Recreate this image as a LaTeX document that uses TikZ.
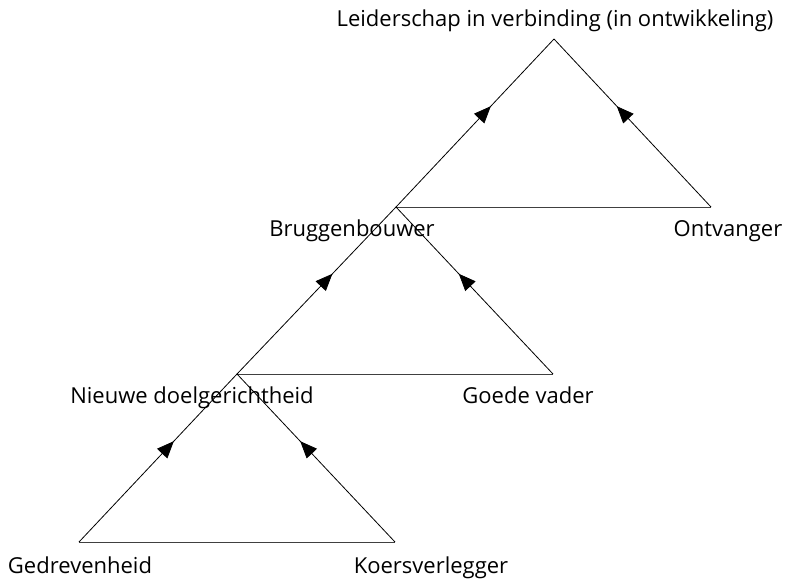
\documentclass[tikz,border=0pt]{standalone}
\usepackage{fontspec}
\setmainfont{Open Sans}
\usetikzlibrary{arrows.meta,decorations.markings}

\tikzset{
  label/.style={anchor=base, inner sep=0pt, font=\fontsize{22}{26}\selectfont},
  edge/.style={line width=0.8pt,
    postaction={decorate, decoration={markings,
      mark=at position 0.6 with {\arrow{Triangle[length=17pt,width=14pt]}}}}},
  baseline/.style={line width=1pt, draw=black!75},
}

\begin{document}
\begin{tikzpicture}[x=1pt,y=-1pt]
  \useasboundingbox (0,0) rectangle (787,579);

  % corners of the three stacked triangles
  \coordinate (a1) at (554,39);
  \coordinate (b1) at (396,207);
  \coordinate (c1) at (711,207);
  \coordinate (b2) at (237,374);
  \coordinate (c2) at (553,374);
  \coordinate (b3) at (79,542);
  \coordinate (c3) at (395,542);

  % labels
  \node[label] (top) at (555,26) {Leiderschap in verbinding (in ontwikkeling)};
  \node[label] (brug) at (352,236) {Bruggenbouwer};
  \node[label] (ontv) at (728,236) {Ontvanger};
  \node[label] (nieuw) at (192,403) {Nieuwe doelgerichtheid};
  \node[label] (goede) at (528,403) {Goede vader};
  \node[label] (gedr) at (80,573) {Gedrevenheid};
  \node[label] (koers) at (431,573) {Koersverlegger};

  % base lines
  \draw[baseline] (b1) -- (c1);
  \draw[baseline] (b2) -- (c2);
  \draw[baseline] (b3) -- (c3);

  % sides, arrows pointing towards each apex
  \draw[edge] (b1) -- (a1);
  \draw[edge] (c1) -- (a1);
  \draw[edge] (b2) -- (b1);
  \draw[edge] (c2) -- (b1);
  \draw[edge] (b3) -- (b2);
  \draw[edge] (c3) -- (b2);
\end{tikzpicture}
\end{document}
